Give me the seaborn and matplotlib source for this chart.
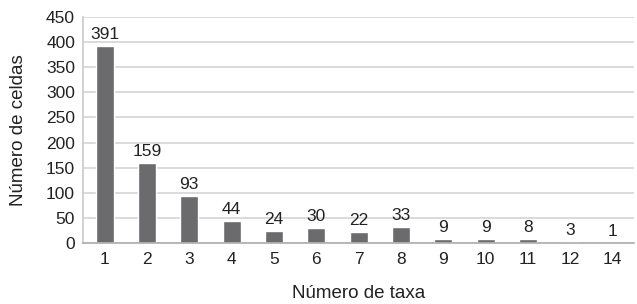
import matplotlib
matplotlib.use("Agg")
import matplotlib.pyplot as plt
import seaborn as sns
import pandas as pd

taxa = ["1", "2", "3", "4", "5", "6", "7", "8", "9", "10", "11", "12", "14"]
celdas = [391, 159, 93, 44, 24, 30, 22, 33, 9, 9, 8, 3, 1]

sns.set_theme(style="whitegrid")
plt.rcParams["font.family"] = ["Liberation Sans", "DejaVu Sans"]

df = pd.DataFrame({"taxa": taxa, "celdas": celdas})

fig, ax = plt.subplots(figsize=(6.37, 3.04), dpi=100)
fig.subplots_adjust(left=0.131, right=0.995, top=0.945, bottom=0.2)

sns.barplot(data=df, x="taxa", y="celdas", color="#6b6b6d", width=0.42,
            saturation=1, ax=ax)

for i, v in enumerate(celdas):
    ax.text(i, v + 8, str(v), ha="center", va="bottom", fontsize=12.5, color="#222222")

ax.set_ylim(0, 450)
ax.set_yticks(range(0, 451, 50))
ax.set_xlim(-0.5, len(taxa) - 0.5)
ax.grid(axis="x", visible=False)
ax.grid(axis="y", color="#d4d4d4", linewidth=1.2)
for s in ["top", "right"]:
    ax.spines[s].set_visible(False)
ax.spines["left"].set_color("#cccccc")
ax.spines["bottom"].set_color("#b0b0b0")
ax.tick_params(axis="both", labelsize=12.5, colors="#222222", length=0, pad=6)
ax.set_xlabel("Número de taxa", fontsize=13.5, color="#222222", labelpad=13)
ax.set_ylabel("Número de celdas", fontsize=13.5, color="#222222", labelpad=14)

fig.savefig("out.png", dpi=100)
